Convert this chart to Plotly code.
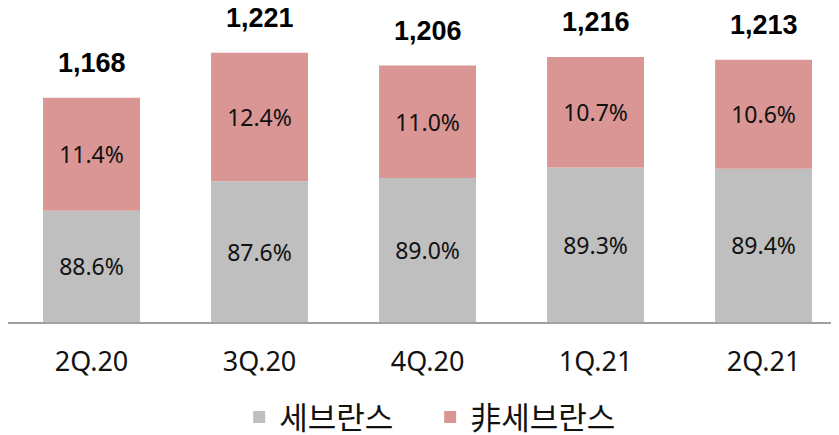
import plotly.graph_objects as go

categories = ["2Q.20", "3Q.20", "4Q.20", "1Q.21", "2Q.21"]
totals = [1168, 1221, 1206, 1216, 1213]
severance_pct = [88.6, 87.6, 89.0, 89.3, 89.4]
non_severance_pct = [11.4, 12.4, 11.0, 10.7, 10.6]
series_names = ["세브란스", "非세브란스"]

Y_MIN, Y_MAX = 903.5, 1273.9

gray_vals = [t * p / 100 for t, p in zip(totals, severance_pct)]
pink_vals = [t * p / 100 for t, p in zip(totals, non_severance_pct)]

GRAY = "#BFBFBF"
PINK = "#D99694"
pct_font = dict(family="Noto Sans, Noto Sans CJK KR, sans-serif", size=23, color="#111111")

fig = go.Figure()
fig.add_trace(go.Bar(
    x=categories, y=[g - Y_MIN for g in gray_vals], base=[Y_MIN] * len(categories),
    name=series_names[0], marker=dict(color=GRAY, line=dict(width=0)),
    text=[f"{p:.1f}%" for p in severance_pct], textposition="inside",
    insidetextanchor="middle", textfont=pct_font, width=0.577,
    hoverinfo="skip",
))
fig.add_trace(go.Bar(
    x=categories, y=pink_vals, base=gray_vals,
    name=series_names[1], marker=dict(color=PINK, line=dict(width=0)),
    text=[f"{p:.1f}%" for p in non_severance_pct], textposition="inside",
    insidetextanchor="middle", textfont=pct_font, width=0.577,
    hoverinfo="skip",
))

for c, t in zip(categories, totals):
    fig.add_annotation(
        x=c, y=t, text=f"<b>{t:,}</b>", showarrow=False, yanchor="middle", yshift=35,
        font=dict(family="Liberation Sans, Arial, sans-serif", size=27, color="#000000"),
    )

fig.update_layout(
    width=831, height=427,
    barmode="overlay",
    margin=dict(l=0, r=0, t=0, b=113, autoexpand=False),
    paper_bgcolor="white", plot_bgcolor="white",
    showlegend=True,
    legend=dict(
        orientation="h", x=0.508, xanchor="center", y=-0.304, yanchor="middle",
        font=dict(family="Noto Sans CJK KR, sans-serif", size=31, color="#111111"),
        itemwidth=30, tracegroupgap=0, traceorder="normal",
        entrywidth=146, entrywidthmode="pixels",
    ),
    uniformtext=dict(mode=False),
)
fig.update_xaxes(
    range=[-0.497, 4.449], showline=True, linecolor="#A0A0A0", linewidth=1.5,
    ticks="outside", ticklen=15, tickcolor="rgba(0,0,0,0)",
    tickfont=dict(family="Noto Sans, Noto Sans CJK KR, sans-serif", size=27, color="#111111"),
    showgrid=False, fixedrange=True,
)
fig.update_yaxes(range=[Y_MIN, Y_MAX], visible=False, showgrid=False, fixedrange=True)

fig.write_html("out.html")
